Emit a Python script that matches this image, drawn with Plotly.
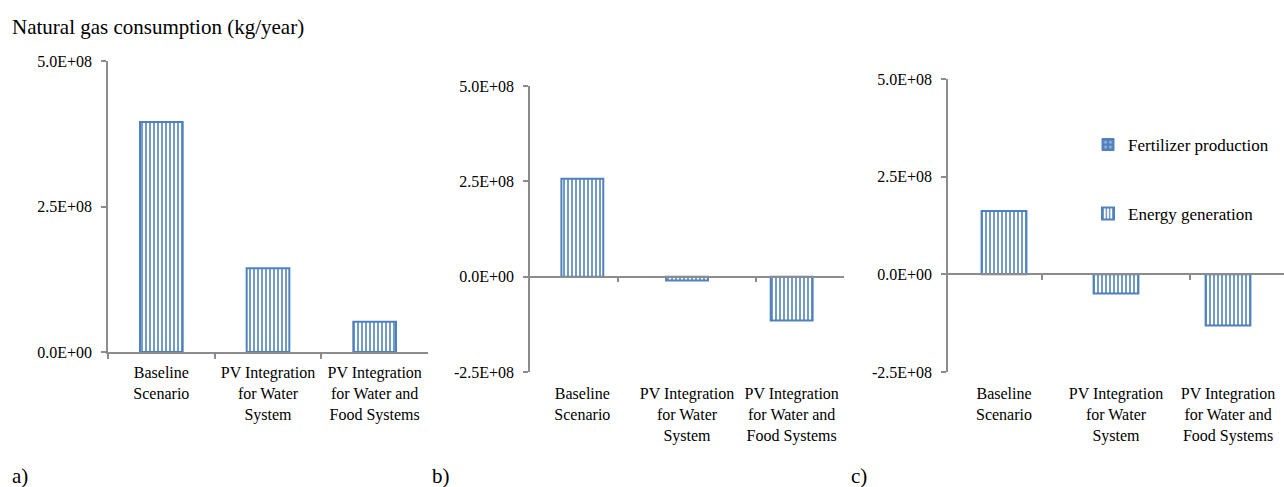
import plotly.graph_objects as go

categories = ["Baseline<br>Scenario", "PV Integration<br>for Water<br>System", "PV Integration<br>for Water and<br>Food Systems"]
panel_a = [3.95e8, 1.44e8, 0.52e8]
panel_b = [2.57e8, -0.10e8, -1.15e8]
panel_c_energy = [1.62e8, -0.49e8, -1.31e8]
panel_c_fertilizer = [0.0, 0.0, 0.0]
tick_vals_a = [0, 2.5e8, 5e8]
tick_text_a = ["0.0E+00", "2.5E+08", "5.0E+08"]
tick_vals_bc = [-2.5e8, 0, 2.5e8, 5e8]
tick_text_bc = ["-2.5E+08", "0.0E+00", "2.5E+08", "5.0E+08"]

W, H = 1284, 487
FONT = "Liberation Serif, Times New Roman, serif"
BLUE = "#4f81bd"
AX = "#8c8c8c"

def xd(a, b):
    return [a / W, b / W]

def yd(top, bottom):
    return [1 - bottom / H, 1 - top / H]

dom_x = {"a": xd(108, 428), "b": xd(530, 844), "c": xd(948, 1284)}
dom_y = {"a": yd(61, 352), "b": yd(86, 372), "c": yd(79, 372)}

def zero_pos(d):
    return d[0] + (0 - (-2.5e8)) / 7.5e8 * (d[1] - d[0])

pattern = dict(shape="|", size=4, solidity=0.4, fgcolor=BLUE, bgcolor="white", fillmode="replace")

fig = go.Figure()

def energy_bar(vals, xa, ya, show, legend="legend2"):
    return go.Bar(x=categories, y=vals, xaxis=xa, yaxis=ya, name="Energy generation",
                  marker=dict(color="white", line=dict(color=BLUE, width=2), pattern=pattern),
                  showlegend=show, legend=legend, hoverinfo="y")

fig.add_trace(energy_bar(panel_a, "x", "y", False))
fig.add_trace(energy_bar(panel_b, "x2", "y2", False))
fig.add_trace(energy_bar(panel_c_energy, "x3", "y3", True))
fig.add_trace(go.Bar(x=categories, y=panel_c_fertilizer, xaxis="x3", yaxis="y3", name="Fertilizer production",
                     marker=dict(color=BLUE, line=dict(color=BLUE, width=1),
                                 pattern=dict(shape=".", size=6, solidity=0.3, fgcolor="#dce6f2", bgcolor=BLUE)),
                     showlegend=True, legend="legend", hoverinfo="y"))

# invisible helper traces for zero-line category axes
for xa, ya in (("x4", "y2"), ("x5", "y3")):
    fig.add_trace(go.Scatter(x=categories, y=[0, 0, 0], xaxis=xa, yaxis=ya, mode="markers",
                             marker=dict(opacity=0), showlegend=False, hoverinfo="skip"))

tickfont = dict(family=FONT, size=16, color="black")
common_y = dict(showline=True, linecolor=AX, linewidth=1.5, ticks="outside", ticklen=5, tickwidth=1.5,
                tickcolor=AX, showgrid=False, zeroline=False, tickfont=tickfont, ticklabelstandoff=6,
                automargin=False)

layout = dict(
    width=W, height=H, autosize=False, margin=dict(l=0, r=0, t=0, b=0, autoexpand=False),
    paper_bgcolor="white", plot_bgcolor="white", barmode="relative", bargap=0.6,
    font=dict(family=FONT, size=16, color="black"),
    xaxis=dict(domain=dom_x["a"], anchor="y", type="category", categoryarray=categories,
               showline=True, linecolor=AX, linewidth=1.5, ticks="outside", tickson="boundaries",
               ticklen=5, tickwidth=1.5, tickcolor=AX, showgrid=False, tickfont=tickfont, automargin=False,
               ticklabelstandoff=5),
    yaxis=dict(domain=dom_y["a"], anchor="x", range=[0, 5e8], tickvals=tick_vals_a, ticktext=tick_text_a, **common_y),
    xaxis2=dict(domain=dom_x["b"], anchor="y2", type="category", categoryarray=categories,
                showline=False, ticks="", showgrid=False, tickfont=tickfont, automargin=False,
                ticklabelstandoff=10),
    yaxis2=dict(domain=dom_y["b"], anchor="x2", range=[-2.5e8, 5e8], tickvals=tick_vals_bc, ticktext=tick_text_bc, **common_y),
    xaxis3=dict(domain=dom_x["c"], anchor="y3", type="category", categoryarray=categories,
                showline=False, ticks="", showgrid=False, tickfont=tickfont, automargin=False,
                ticklabelstandoff=10),
    yaxis3=dict(domain=dom_y["c"], anchor="x3", range=[-2.5e8, 5e8], tickvals=tick_vals_bc, ticktext=tick_text_bc, **common_y),
    xaxis4=dict(overlaying="x2", anchor="free", position=zero_pos(dom_y["b"]), type="category",
                categoryarray=categories, showline=True, linecolor=AX, linewidth=1.5, ticks="outside",
                tickson="boundaries", ticklen=5, tickwidth=1.5, tickcolor=AX, showticklabels=False,
                showgrid=False, automargin=False),
    xaxis5=dict(overlaying="x3", anchor="free", position=zero_pos(dom_y["c"]), type="category",
                categoryarray=categories, showline=True, linecolor=AX, linewidth=1.5, ticks="outside",
                tickson="boundaries", ticklen=5, tickwidth=1.5, tickcolor=AX, showticklabels=False,
                showgrid=False, automargin=False),
    legend=dict(x=1088 / W, y=1 - 145 / H, xanchor="left", yanchor="middle", bgcolor="rgba(0,0,0,0)",
                font=dict(family=FONT, size=17), itemwidth=30),
    legend2=dict(x=1088 / W, y=1 - 214 / H, xanchor="left", yanchor="middle", bgcolor="rgba(0,0,0,0)",
                 font=dict(family=FONT, size=17), itemwidth=30),
    annotations=[
        dict(text="Natural gas consumption (kg/year)", x=10 / W, y=1 - 27 / H, xref="paper", yref="paper",
             xanchor="left", yanchor="middle", showarrow=False, font=dict(family=FONT, size=21)),
        dict(text="a)", x=10 / W, y=1 - 476 / H, xref="paper", yref="paper", xanchor="left", yanchor="middle",
             showarrow=False, font=dict(family=FONT, size=21)),
        dict(text="b)", x=430 / W, y=1 - 476 / H, xref="paper", yref="paper", xanchor="left", yanchor="middle",
             showarrow=False, font=dict(family=FONT, size=21)),
        dict(text="c)", x=849 / W, y=1 - 476 / H, xref="paper", yref="paper", xanchor="left", yanchor="middle",
             showarrow=False, font=dict(family=FONT, size=21)),
    ],
)
fig.update_layout(**layout)
fig.write_html("out.html")
